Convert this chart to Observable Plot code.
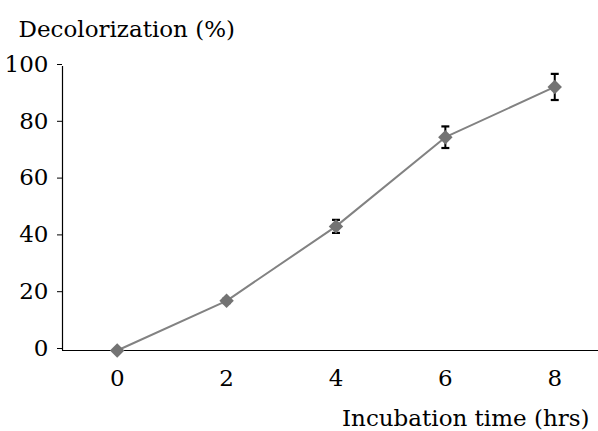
<!DOCTYPE html>
<html>
<head>
<meta charset="utf-8">
<script src="https://cdn.jsdelivr.net/npm/d3@7"></script>
<script src="https://cdn.jsdelivr.net/npm/@observablehq/plot@0.6"></script>
<style>
  html, body { margin: 0; padding: 0; background: #fff; }
  svg { display: block; }
</style>
</head>
<body>
<div id="chart"></div>
<script>
// Incubation time (hours) and mean decolorization (%) with error
const hours = [0, 2, 4, 6, 8];
const decolorization = [0, 17.5, 43.7, 75.1, 92.8];
const errors = [0, 0.8, 2.3, 3.8, 4.6];
const yTicks = [0, 20, 40, 60, 80, 100];

const data = hours.map((h, i) => ({
  h,
  v: decolorization[i],
  lo: decolorization[i] - errors[i],
  hi: decolorization[i] + errors[i]
}));

// a flat cap for the error bars
const cap = {
  draw(context, size) {
    const w = Math.sqrt(size);
    context.moveTo(-w / 2, 0);
    context.lineTo(w / 2, 0);
  }
};

const FONT = "'DejaVu Serif', serif";
const FS = 23;

const chart = Plot.plot({
  width: 598,
  height: 431,
  marginLeft: 62,
  marginRight: 0,
  marginTop: 66,
  marginBottom: 81,
  style: { fontSize: `${FS}px`, color: "#000", background: "#fff" },
  x: { domain: [-1, 8.8] },
  y: { domain: [0, 100] },
  marks: [
    Plot.axisY({
      ticks: yTicks,
      tickSize: 5,
      tickPadding: 9,
      dy: -2,
      label: null,
      fontSize: FS,
      stroke: "#000"
    }),
    Plot.axisX({
      ticks: hours,
      tickSize: 0,
      tickPadding: 19,
      label: null,
      fontSize: FS
    }),
    Plot.ruleX([-1], { y1: 0, y2: 100, stroke: "#000", strokeWidth: 1.2 }),
    Plot.ruleY([0], { stroke: "#000", strokeWidth: 1.2 }),
    // error bars
    Plot.ruleX(data, { x: "h", y1: "lo", y2: "hi", stroke: "#000", strokeWidth: 2 }),
    Plot.dot(data, { x: "h", y: "lo", symbol: cap, r: 4.5, stroke: "#000", strokeWidth: 2.2, fill: "none" }),
    Plot.dot(data, { x: "h", y: "hi", symbol: cap, r: 4.5, stroke: "#000", strokeWidth: 2.2, fill: "none" }),
    // series
    Plot.line(data, { x: "h", y: "v", stroke: "#828282", strokeWidth: 2 }),
    Plot.dot(data, { x: "h", y: "v", symbol: "diamond2", r: 6.5, fill: "#737373", stroke: "none" }),
    // axis titles
    Plot.text(["Decolorization (%)"], {
      frameAnchor: "top-left", textAnchor: "start", lineAnchor: "bottom",
      dx: -44, dy: -30, fontSize: FS, fill: "#000"
    }),
    Plot.text(["Incubation time (hrs)"], {
      frameAnchor: "bottom-right", textAnchor: "end", lineAnchor: "bottom",
      dx: -9, dy: 75, fontSize: FS, fill: "#000"
    })
  ]
});

// serif type throughout the figure
chart.style.fontFamily = FONT;
d3.select(chart).selectAll("text, g").style("font-family", FONT);

document.getElementById("chart").appendChild(chart);
</script>
</body>
</html>
